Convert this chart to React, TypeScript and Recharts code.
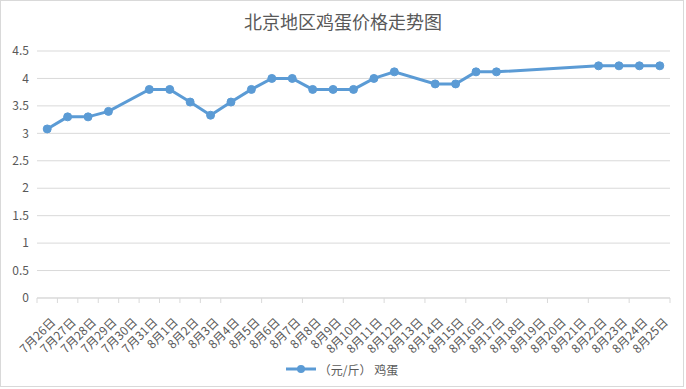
import React from 'react';
import { LineChart, Line, XAxis, YAxis, CartesianGrid, Legend } from 'recharts';

const dates = [
  '7月26日', '7月27日', '7月28日', '7月29日', '7月30日', '7月31日',
  '8月1日', '8月2日', '8月3日', '8月4日', '8月5日', '8月6日', '8月7日', '8月8日',
  '8月9日', '8月10日', '8月11日', '8月12日', '8月13日', '8月14日', '8月15日',
  '8月16日', '8月17日', '8月18日', '8月19日', '8月20日', '8月21日', '8月22日',
  '8月23日', '8月24日', '8月25日',
];

const prices: (number | null)[] = [
  3.08, 3.3, 3.3, 3.4, null, 3.8,
  3.8, 3.57, 3.33, 3.57, 3.8, 4.0, 4.0, 3.8,
  3.8, 3.8, 4.0, 4.12, null, 3.9, 3.9,
  4.12, 4.12, null, null, null, null, 4.23,
  4.23, 4.23, 4.23,
];

const yTicks = [0, 0.5, 1, 1.5, 2, 2.5, 3, 3.5, 4, 4.5];

const seriesName = '（元/斤） 鸡蛋';
const title = '北京地区鸡蛋价格走势图';

// each category sits in the middle of its band on a numeric axis
const data = dates.map((d, i) => ({ date: d, price: prices[i], pos: i + 0.5 }));
const boundaryTicks = dates.map((_, i) => i).concat(dates.length);
const centerTicks = data.map((d) => d.pos);

const COLOR = '#5b9bd5';
const TEXT = '#595959';
const GRID = '#d9d9d9';
const FONT = '"Noto Sans CJK SC", "Noto Sans", sans-serif';

const DateTick = (props: any) => {
  const { x, y, payload } = props;
  const label = dates[Math.floor(payload.value)];
  const ax = x + 9;
  const ay = y + 16;
  return (
    <text
      x={ax}
      y={ay}
      textAnchor="end"
      transform={`rotate(-45 ${ax} ${ay})`}
      fill={TEXT}
      fontSize={12}
      fontFamily={FONT}
    >
      {label}
    </text>
  );
};

const NoLabel = () => <g />;

const LegendContent = () => (
  <div
    style={{
      display: 'flex',
      justifyContent: 'center',
      alignItems: 'center',
      height: 20,
      fontFamily: FONT,
      fontSize: 12,
      color: TEXT,
      paddingLeft: 14,
    }}
  >
    <svg width={30} height={10} style={{ marginRight: 3 }}>
      <line x1={0} y1={5} x2={30} y2={5} stroke={COLOR} strokeWidth={3} />
      <circle cx={15} cy={5} r={4} fill={COLOR} />
    </svg>
    <span>{seriesName}</span>
  </div>
);

export default function App() {
  return (
    <div style={{ position: 'absolute', left: 0, top: 0, width: 686, height: 389, background: '#fff' }}>
      <div
        style={{
          position: 'absolute',
          left: 0,
          top: 0,
          width: 684,
          height: 387,
          boxSizing: 'border-box',
          border: `1px solid ${GRID}`,
        }}
      />
      <div
        style={{
          position: 'absolute',
          left: 0,
          top: 8,
          width: 686,
          textAlign: 'center',
          fontFamily: FONT,
          fontSize: 18,
          color: TEXT,
          lineHeight: '26px',
        }}
      >
        {title}
      </div>
      <div style={{ position: 'absolute', left: 0, top: 0 }}>
        <LineChart width={686} height={389} data={data} margin={{ top: 51, right: 16, bottom: 16, left: 0 }}>
          <CartesianGrid horizontal vertical={false} stroke={GRID} xAxisId="a" />
          <XAxis
            xAxisId="a"
            dataKey="pos"
            type="number"
            domain={[0, dates.length]}
            ticks={boundaryTicks}
            allowDataOverflow
            tick={<NoLabel />}
            tickSize={5}
            height={1}
            axisLine={{ stroke: GRID }}
            tickLine={{ stroke: GRID }}
          />
          <XAxis
            xAxisId="b"
            dataKey="pos"
            type="number"
            domain={[0, dates.length]}
            ticks={centerTicks}
            interval={0}
            allowDataOverflow
            axisLine={false}
            tickLine={false}
            height={54}
            tick={<DateTick />}
          />
          <YAxis
            domain={[0, 4.5]}
            ticks={yTicks}
            width={37}
            axisLine={false}
            tickLine={false}
            tick={{ fill: TEXT, fontSize: 12, fontFamily: FONT }}
          />
          <Legend
            verticalAlign="bottom"
            content={<LegendContent />}
            wrapperStyle={{ bottom: 10 }}
          />
          <Line
            xAxisId="a"
            type="linear"
            dataKey="price"
            name={seriesName}
            stroke={COLOR}
            strokeWidth={3}
            dot={{ r: 4, fill: COLOR, stroke: COLOR, strokeWidth: 1 }}
            connectNulls
            isAnimationActive={false}
          />
        </LineChart>
      </div>
    </div>
  );
}
